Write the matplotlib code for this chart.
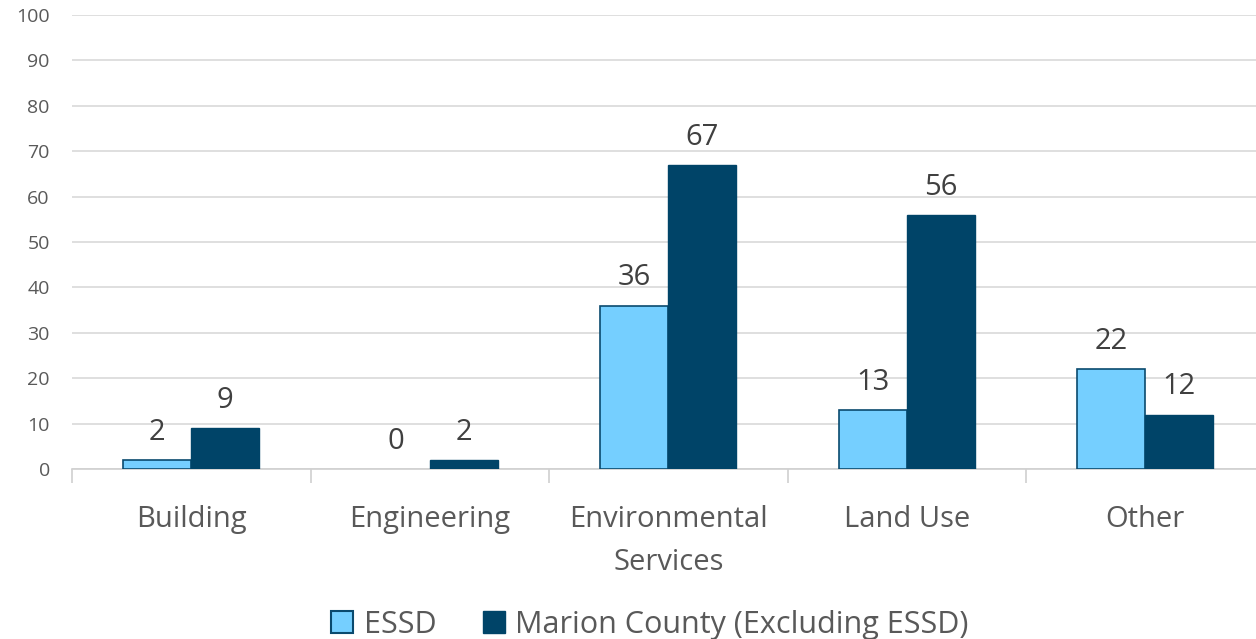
import matplotlib
matplotlib.use("Agg")
import matplotlib.pyplot as plt
import numpy as np
from matplotlib.patches import Patch

categories = ["Building", "Engineering", "Environmental\nServices", "Land Use", "Other"]
essd = [2, 0, 36, 13, 22]
marion = [9, 2, 67, 56, 12]
series_names = ["ESSD", "Marion County (Excluding ESSD)"]
yticks = [0, 10, 20, 30, 40, 50, 60, 70, 80, 90, 100]

light = "#75CFFF"
dark = "#004468"
edge = "#0A4A6E"
txt = "#595959"

plt.rcParams['font.family'] = ['Open Sans', 'DejaVu Sans']

fig = plt.figure(figsize=(12.56, 6.39), dpi=100)
W, H = 1256, 639
left_px, right_px = 72, 72 + 5 * 238.5
top_px, bot_px = 15, 469
ax = fig.add_axes([left_px / W, 1 - bot_px / H, (right_px - left_px) / W, (bot_px - top_px) / H])

x = np.arange(len(categories))
bw = 0.285
lw1 = [1.2 if v > 0 else 0 for v in essd]
b1 = ax.bar(x - bw / 2, essd, bw, color=light, edgecolor=edge, linewidth=lw1, zorder=3)
b2 = ax.bar(x + bw / 2, marion, bw, color=dark, edgecolor=dark, linewidth=1.0, zorder=3)

for bars, vals in ((b1, essd), (b2, marion)):
    for r, v in zip(bars, vals):
        ax.annotate(str(v), (r.get_x() + r.get_width() / 2, v), xytext=(0, 9.5),
                    textcoords="offset points", ha="center", va="bottom",
                    fontsize=21, color="#404040")

ax.set_xlim(-0.5, len(categories) - 0.5)
ax.set_ylim(0, 100)
ax.set_yticks(yticks)
ax.set_yticklabels([str(t) for t in yticks], fontsize=14, color=txt)
ax.yaxis.grid(True, color="#D9D9D9", linewidth=1.2, zorder=0)
ax.set_axisbelow(True)
for s in ["top", "right", "left"]:
    ax.spines[s].set_visible(False)
ax.spines["bottom"].set_color("#D0D0D0")
ax.spines["bottom"].set_linewidth(1.2)
ax.tick_params(axis="y", length=0, pad=16)

ax.set_xticks(np.arange(len(categories) + 1) - 0.5, minor=False)
ax.set_xticklabels([])
ax.tick_params(axis="x", which="major", length=10, color="#D0D0D0", width=1.2)
ax.set_xticks(x, minor=True)
ax.set_xticklabels(categories, minor=True, fontsize=21, color=txt, linespacing=1.62)
ax.tick_params(axis="x", which="minor", length=0, pad=26)

handles = [Patch(facecolor=light, edgecolor=edge, linewidth=1.5),
           Patch(facecolor=dark, edgecolor=dark)]
fig.legend(handles, series_names, loc="center", bbox_to_anchor=(650 / W, 1 - 625 / H),
           ncol=2, frameon=False, fontsize=22, labelcolor=txt, handlelength=0.72,
           handleheight=0.72, handletextpad=0.35, columnspacing=1.5, borderpad=0)

fig.savefig("out.png", dpi=100)
